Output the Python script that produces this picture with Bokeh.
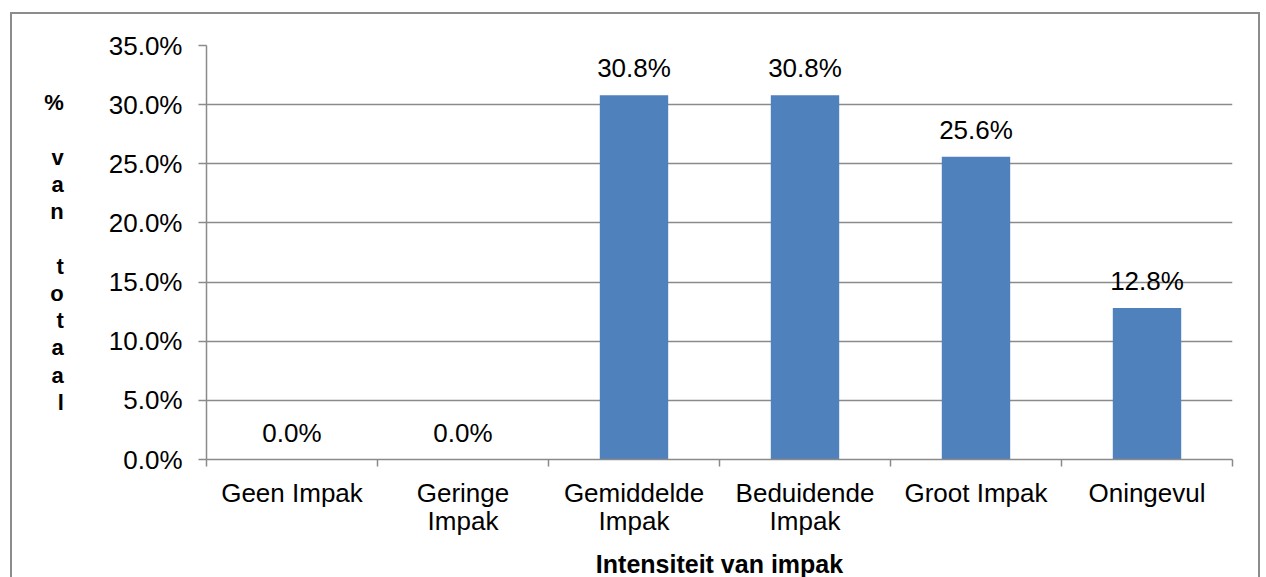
from bokeh.plotting import figure
from bokeh.models import FixedTicker, NumeralTickFormatter, Range1d, ColumnDataSource
from bokeh.core.properties import value
from bokeh.embed import file_html
from bokeh.resources import INLINE
import numpy as np

# Impact categories and share of total
categories = ["Geen Impak", "Geringe\nImpak", "Gemiddelde\nImpak", "Beduidende\nImpak", "Groot Impak", "Oningevul"]
shares = [0.0, 0.0, 0.308, 0.308, 0.256, 0.128]
y_ticks = [0.0, 0.05, 0.10, 0.15, 0.20, 0.25, 0.30, 0.35]

FONT = "Liberation Sans"
GRID = "#8a8a8a"
BAR = "#4F81BD"

centers = np.arange(len(categories)) + 0.5
bounds = list(np.arange(len(categories) + 1).astype(float))

src = ColumnDataSource(dict(
    x=centers,
    top=shares,
    label=[f"{s * 100:.1f}%" for s in shares],
))

p = figure(
    width=1250, height=580,
    x_range=Range1d(0, len(categories)),
    y_range=Range1d(0, 0.35),
    output_backend="svg", toolbar_location=None,
    min_border_left=194, min_border_right=30,
    min_border_top=31, min_border_bottom=135,
)
p.margin = (12, 0, 0, 10)
p.styles = {"border": "2px solid #8c8c8c"}
p.outline_line_color = None
p.background_fill_color = "white"
p.border_fill_color = "white"

p.vbar(x="x", top="top", width=0.4, source=src, fill_color=BAR, line_color=None)
p.text(x="x", y="top", text="label", source=src,
       text_align="center", text_baseline="alphabetic", y_offset=-27,
       text_font=value(FONT), text_font_size="26px", text_color="black")

# x axis: labels at category centres, ticks at category boundaries
xa = p.xaxis[0]
xa.ticker = FixedTicker(ticks=list(centers), minor_ticks=bounds)
xa.major_label_overrides = {float(c): lab for c, lab in zip(centers, categories)}
xa.major_tick_out = 0
xa.major_tick_in = 0
xa.minor_tick_out = 7
xa.minor_tick_in = 0
xa.minor_tick_line_color = GRID
xa.minor_tick_line_width = 1.5
xa.axis_line_color = GRID
xa.axis_line_width = 1.5
xa.major_label_text_font = FONT
xa.major_label_text_font_size = "26px"
xa.major_label_text_color = "black"
xa.major_label_text_line_height = 0.95
xa.major_label_standoff = 11
xa.axis_label = "Intensiteit van impak"
xa.axis_label_text_font = FONT
xa.axis_label_text_font_size = "25px"
xa.axis_label_text_font_style = "bold"
xa.axis_label_text_color = "black"
xa.axis_label_standoff = 11

ya = p.yaxis[0]
ya.ticker = FixedTicker(ticks=y_ticks)
ya.formatter = NumeralTickFormatter(format="0.0%")
ya.major_tick_out = 8
ya.major_tick_in = 0
ya.minor_tick_line_color = None
ya.major_tick_line_color = GRID
ya.major_tick_line_width = 1.5
ya.axis_line_color = GRID
ya.axis_line_width = 1.5
ya.major_label_text_font = FONT
ya.major_label_text_font_size = "26px"
ya.major_label_text_color = "black"
ya.major_label_standoff = 16
ya.axis_label = "%\n\nv\na\nn\n\nt\no\nt\na\na\nl"
ya.axis_label_orientation = "horizontal"
ya.axis_label_text_font = FONT
ya.axis_label_text_font_size = "22px"
ya.axis_label_text_font_style = "bold"
ya.axis_label_text_color = "black"
ya.axis_label_text_line_height = 1.09
ya.axis_label_text_align = "center"
ya.axis_label_standoff = 42

p.xgrid.grid_line_color = None
p.ygrid.ticker = FixedTicker(ticks=y_ticks)
p.ygrid.grid_line_color = GRID
p.ygrid.grid_line_width = 1.5

open("out.html", "w").write(file_html(p, INLINE))
